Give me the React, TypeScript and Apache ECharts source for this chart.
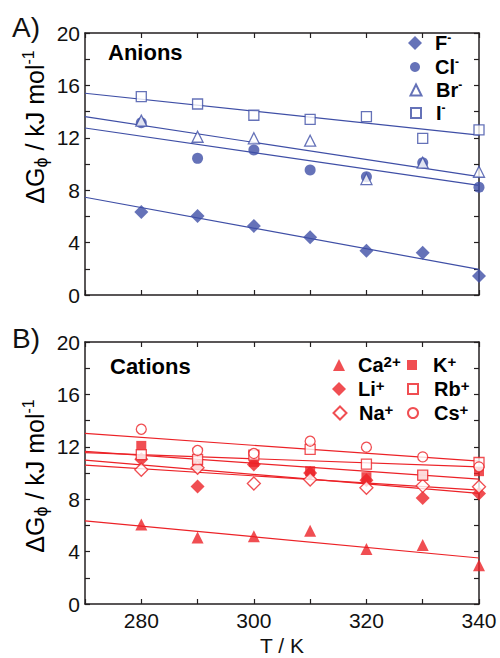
import React, { useEffect, useRef } from "react";
import * as echarts from "echarts";

// Temperatures (K)
const temps = [280, 290, 300, 310, 320, 330, 340];
// Fit line end temperatures
const fitT = [270, 340];

// A) Anions  ΔGφ (kJ/mol)
const fluoride = [6.34, 6.03, 5.27, 4.4, 3.38, 3.23, 1.45];
const chloride = [13.15, 10.43, 11.07, 9.54, 9.03, 10.1, 8.22];
const bromide = [13.31, 12.08, 11.96, 11.78, 8.85, 10.1, 9.41];
const iodide = [15.14, 14.58, 13.72, 13.41, 13.61, 11.96, 12.6];
const fitF = [7.46, 1.96];
const fitCl = [12.75, 8.37];
const fitBr = [13.61, 9.03];
const fitI = [15.4, 12.21];

// B) Cations
const calcium = [6.07, 5.08, 5.18, 5.59, 4.19, 4.5, 2.95];
const lithium = [11.05, 8.97, 10.65, 10.0, 9.45, 8.1, 8.44];
const sodium = [10.25, 10.4, 9.2, 9.5, 8.87, 9.02, 8.95];
const potassium = [12.07, 10.6, 10.85, 10.14, 9.68, 9.8, 10.14];
const rubidium = [11.41, 11.03, 11.36, 11.8, 10.67, 9.84, 10.8];
const cesium = [13.34, 11.72, 11.49, 12.43, 11.97, 11.23, 10.47];
const fitCa = [6.35, 3.51];
const fitLi = [10.98, 8.44];
const fitNa = [10.6, 8.69];
const fitK = [11.65, 9.53];
const fitRb = [11.55, 10.47];
const fitCs = [13.02, 10.9];

const yTicks = [0, 4, 8, 12, 16, 20];
const xTicks = [280, 300, 320, 340];

const BLUE = "#3F4FA6";
const RED = "#EC2227";
const INK = "#231F20";
const FONT = "'Liberation Sans', Arial, Helvetica, sans-serif";

const legendNames: Record<string, string> = {
  "F-": "{b|F}{s|-}",
  "Cl-": "{b|Cl}{s|-}",
  "Br-": "{b|Br}{s|-}",
  "I-": "{b|I}{s|-}",
  "Ca2+": "{b|Ca}{s|2+}",
  "Li+": "{b|Li}{s|+}",
  "Na+": "{b|Na}{s|+}",
  "K+": "{b|K}{s|+}",
  "Rb+": "{b|Rb}{s|+}",
  "Cs+": "{b|Cs}{s|+}",
};

const zip = (xs: number[], ys: number[]) => xs.map((x, i) => [x, ys[i]]);

export default function App() {
  const ref = useRef<HTMLDivElement>(null);
  useEffect(() => {
    if (!ref.current) return;
    const chart = echarts.init(ref.current, undefined, { renderer: "svg" });

    const legendItem = (name: string, cx: number, cy: number, size: number, textX: number, supSize: number) => ({
      orient: "vertical",
      left: cx - size / 2,
      top: cy - 11,
      itemWidth: size,
      itemHeight: size,
      padding: 0,
      data: [name],
      formatter: (n: string) => legendNames[n],
      textStyle: {
        rich: {
          b: {
            fontSize: 20,
            fontWeight: "bold",
            fontFamily: FONT,
            color: "#000",
            lineHeight: 22,
            padding: [0, 0, 0, Math.max(0, textX - (cx + size / 2) - 5)],
          },
          s: { fontSize: supSize, fontWeight: "bold", fontFamily: FONT, color: "#000", lineHeight: 22, verticalAlign: "top" },
        },
      },
    });

    const xBase = (grid: number, pos: "bottom" | "top", labels: boolean) => ({
      type: "value",
      gridIndex: grid,
      position: pos,
      min: 270,
      max: 340,
      interval: 10,
      axisLine: { show: true, onZero: false, lineStyle: { color: INK, width: 1.5 } },
      axisTick: { show: true, inside: true, length: 5, lineStyle: { color: INK, width: 1.2 } },
      axisLabel: {
        show: labels,
        fontSize: 21,
        color: "#111",
        fontFamily: FONT,
        margin: 6,
        formatter: (v: number) => (xTicks.includes(v) ? String(v) : ""),
      },
      splitLine: { show: false },
    });
    const yBase = (grid: number, pos: "left" | "right", labels: boolean) => ({
      type: "value",
      gridIndex: grid,
      position: pos,
      min: 0,
      max: 20,
      interval: 2,
      axisLine: { show: true, onZero: false, lineStyle: { color: INK, width: 1.5 } },
      axisTick: { show: true, inside: true, length: 5, lineStyle: { color: INK, width: 1.2 } },
      axisLabel: {
        show: labels,
        fontSize: 21,
        color: "#111",
        fontFamily: FONT,
        margin: 5,
        formatter: (v: number) => (yTicks.includes(v) ? String(v) : ""),
      },
      splitLine: { show: false },
    });

    const scatter = (
      name: string,
      ys: number[],
      axis: number,
      symbol: string,
      size: number,
      color: string,
      filled: boolean
    ) => ({
      name,
      type: "scatter",
      xAxisIndex: axis,
      yAxisIndex: axis,
      data: zip(temps, ys),
      symbol,
      symbolSize: size,
      itemStyle: filled
        ? { color, borderWidth: 0 }
        : { color: "#ffffff", borderColor: color, borderWidth: 1.3 },
      z: filled ? 3 : 4,
    });
    const fit = (name: string, ys: number[], axis: number, color: string) => ({
      name,
      type: "line",
      xAxisIndex: axis,
      yAxisIndex: axis,
      data: zip(fitT, ys),
      symbol: "none",
      lineStyle: { color, width: 1.2 },
      z: 2,
      silent: true,
    });

    const yTitle = (cy: number) => ({
      type: "text",
      x: 35,
      y: cy,
      rotation: Math.PI / 2,
      style: {
        text: "{n|ΔG}{sub|ϕ}{n| / kJ mol}{sup|-1}",
        align: "center",
        verticalAlign: "middle",
        rich: {
          n: { fontSize: 25, fontFamily: FONT, color: "#111", lineHeight: 30 },
          sub: { fontSize: 18, fontFamily: FONT, color: "#111", lineHeight: 30, verticalAlign: "bottom" },
          sup: { fontSize: 16, fontFamily: FONT, color: "#111", lineHeight: 30, verticalAlign: "top" },
        },
      },
    });

    const option = {
      animation: false,
      backgroundColor: "#ffffff",
      textStyle: { fontFamily: FONT },
      grid: [
        { left: 85, top: 33, width: 394, height: 262, outerBoundsMode: "none", containLabel: false },
        { left: 85, top: 342, width: 394, height: 262, outerBoundsMode: "none", containLabel: false },
      ],
      xAxis: [
        xBase(0, "bottom", false),
        xBase(0, "top", false),
        {
          ...xBase(1, "bottom", true),
          name: "T / K",
          nameLocation: "middle",
          nameGap: 31,
          nameTextStyle: { fontSize: 21, lineHeight: 21, color: "#111", fontFamily: FONT },
        },
        xBase(1, "top", false),
      ],
      yAxis: [yBase(0, "left", true), yBase(0, "right", false), yBase(1, "left", true), yBase(1, "right", false)],
      legend: [
        legendItem("F-", 415, 43, 14, 435, 12),
        legendItem("Cl-", 415, 67, 10, 435, 12),
        legendItem("Br-", 415, 90, 11, 435, 12),
        legendItem("I-", 415, 113, 10, 435, 12),
        legendItem("Ca2+", 339, 365, 12, 358, 15),
        legendItem("Li+", 339, 389, 14, 358, 15),
        legendItem("Na+", 339, 413, 13, 358, 15),
        legendItem("K+", 412, 365, 10, 433, 15),
        legendItem("Rb+", 412, 389, 10, 433, 15),
        legendItem("Cs+", 412, 413, 10, 433, 15),
      ],
      graphic: [
        { type: "text", left: 12, top: 13, style: { text: "A)", fontSize: 28, fontFamily: FONT, fill: "#111" } },
        { type: "text", left: 12, top: 324, style: { text: "B)", fontSize: 28, fontFamily: FONT, fill: "#111" } },
        { type: "text", left: 108, top: 41, style: { text: "Anions", fontSize: 22, fontWeight: "bold", fontFamily: FONT, fill: "#000" } },
        { type: "text", left: 110, top: 355, style: { text: "Cations", fontSize: 22, fontWeight: "bold", fontFamily: FONT, fill: "#000" } },
        yTitle(127),
        yTitle(476),
      ],
      series: [
        fit("fit F", fitF, 0, BLUE),
        fit("fit Cl", fitCl, 0, BLUE),
        fit("fit Br", fitBr, 0, BLUE),
        fit("fit I", fitI, 0, BLUE),
        scatter("F-", fluoride, 0, "diamond", 14, BLUE, true),
        scatter("Cl-", chloride, 0, "circle", 11, BLUE, true),
        scatter("Br-", bromide, 0, "triangle", 11, BLUE, false),
        scatter("I-", iodide, 0, "rect", 10, BLUE, false),

        fit("fit Ca", fitCa, 2, RED),
        fit("fit Li", fitLi, 2, RED),
        fit("fit Na", fitNa, 2, RED),
        fit("fit K", fitK, 2, RED),
        fit("fit Rb", fitRb, 2, RED),
        fit("fit Cs", fitCs, 2, RED),
        scatter("Ca2+", calcium, 2, "triangle", 12, RED, true),
        scatter("Li+", lithium, 2, "diamond", 14, RED, true),
        scatter("K+", potassium, 2, "rect", 10, RED, true),
        scatter("Na+", sodium, 2, "diamond", 13, RED, false),
        scatter("Rb+", rubidium, 2, "rect", 10, RED, false),
        scatter("Cs+", cesium, 2, "circle", 10, RED, false),
      ],
    };

    chart.setOption(option as any);
    return () => chart.dispose();
  }, []);

  return (
    <div
      ref={ref}
      style={{ position: "absolute", left: 0, top: 0, width: 500, height: 658, background: "#fff" }}
    />
  );
}
